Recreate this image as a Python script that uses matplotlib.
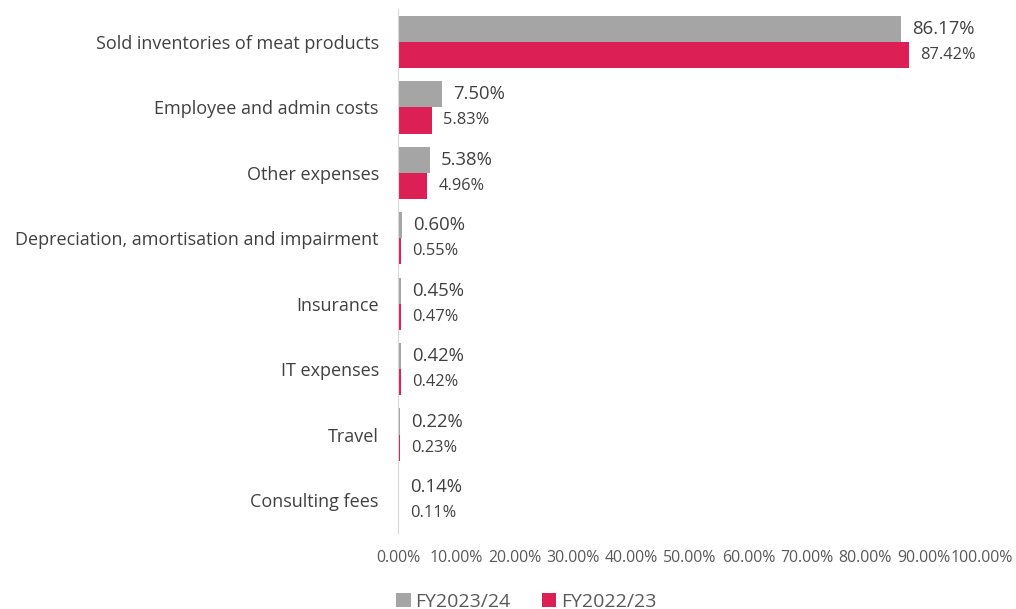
import matplotlib.pyplot as plt

# --- data (share of total costs, %) ---
categories = [
    "Sold inventories of meat products",
    "Employee and admin costs",
    "Other expenses",
    "Depreciation, amortisation and impairment",
    "Insurance",
    "IT expenses",
    "Travel",
    "Consulting fees",
]
fy2324 = [86.17, 7.50, 5.38, 0.60, 0.45, 0.42, 0.22, 0.14]
fy2223 = [87.42, 5.83, 4.96, 0.55, 0.47, 0.42, 0.23, 0.11]
ticks = [0, 10, 20, 30, 40, 50, 60, 70, 80, 90, 100]

GRAY = "#A5A5A5"
RED = "#DC1F55"
TXT = "#404040"

plt.rcParams["font.family"] = ["Open Sans", "DejaVu Sans"]

fig = plt.figure(figsize=(10.16, 6.09), dpi=100)
ax = fig.add_axes([0.392, 0.125, 0.5745, 0.86])

y = list(range(len(categories)))
h = 0.4
y_gray = [i - h / 2 for i in y]
y_red = [i + h / 2 for i in y]

ax.barh(y_gray, fy2324, height=h, color=GRAY, label="FY2023/24")
ax.barh(y_red, fy2223, height=h, color=RED, label="FY2022/23")

for yy, v in zip(y_gray, fy2324):
    ax.annotate(f"{v:.2f}%", (v, yy), xytext=(8, 0), textcoords="offset points",
                va="center", ha="left", fontsize=13.3, color=TXT)
for yy, v in zip(y_red, fy2223):
    ax.annotate(f"{v:.2f}%", (v, yy), xytext=(8, 0), textcoords="offset points",
                va="center", ha="left", fontsize=11.8, color=TXT)

ax.set_xlim(0, 100)
ax.set_ylim(len(categories) - 0.5, -0.5)
ax.set_yticks(y)
ax.set_yticklabels(categories, fontsize=13, color=TXT)
ax.set_xticks(ticks)
ax.set_xticklabels([f"{t:.2f}%" for t in ticks], fontsize=11.4, color="#595959")
ax.tick_params(axis="both", length=0)
ax.tick_params(axis="x", pad=12)
ax.tick_params(axis="y", pad=14)

for s in ["top", "right", "bottom"]:
    ax.spines[s].set_visible(False)
ax.spines["left"].set_color("#D9D9D9")

leg = fig.legend(loc="center", bbox_to_anchor=(0.518, 0.012), ncol=2, frameon=False,
                 fontsize=14, handlelength=0.75, handleheight=0.75, handletextpad=0.25,
                 columnspacing=1.6)
for t in leg.get_texts():
    t.set_color("#595959")

fig.savefig("out.png", dpi=100)
